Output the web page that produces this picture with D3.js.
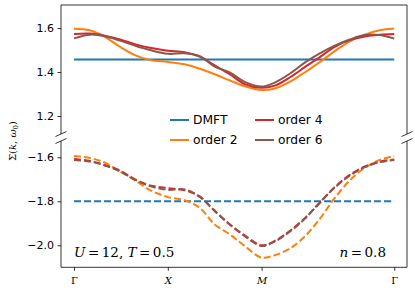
<!DOCTYPE html>
<html><head><meta charset="utf-8">
<script src="https://cdn.jsdelivr.net/npm/d3@7"></script>
<style>body{margin:0;background:#fff}svg{display:block}</style>
</head><body>
<script>
// k-path coordinate (Γ=0, X=1, M=2, Γ=2+√2)
const kpath = [0,0.17,0.33,0.49,0.65,0.81,1.0,1.18,1.34,1.5,1.66,1.82,2.0,2.14,2.30,2.46,2.62,2.78,2.94,3.10,3.26,3.414];
const tickPos = [0,1,2,3.414];
const tickLabels = ["Γ","X","M","Γ"];
const seriesNames = ["DMFT","order 2","order 4","order 6"];
// upper branch
const dmftTop = 1.457;
const order2Top = [1.597,1.590,1.560,1.515,1.477,1.455,1.446,1.435,1.415,1.390,1.362,1.335,1.318,1.325,1.355,1.398,1.445,1.495,1.540,1.570,1.590,1.598];
const order4Top = [1.573,1.575,1.565,1.548,1.527,1.510,1.497,1.490,1.470,1.430,1.390,1.345,1.328,1.338,1.375,1.422,1.468,1.515,1.545,1.562,1.570,1.573];
const order6Top = [1.553,1.570,1.563,1.543,1.520,1.500,1.483,1.485,1.472,1.425,1.398,1.355,1.334,1.352,1.392,1.443,1.485,1.520,1.548,1.568,1.568,1.552];
// lower branch
const dmftBot = -1.8;
const order2Bot = [-1.594,-1.603,-1.625,-1.665,-1.705,-1.749,-1.781,-1.795,-1.830,-1.905,-1.950,-2.003,-2.056,-2.045,-2.015,-1.960,-1.880,-1.785,-1.705,-1.648,-1.612,-1.594];
const order4Bot = [-1.608,-1.617,-1.636,-1.660,-1.700,-1.728,-1.740,-1.750,-1.778,-1.845,-1.905,-1.955,-2.000,-1.980,-1.935,-1.877,-1.808,-1.735,-1.680,-1.642,-1.620,-1.610];
const order6Bot = [-1.612,-1.619,-1.637,-1.664,-1.702,-1.731,-1.748,-1.746,-1.780,-1.842,-1.905,-1.958,-2.003,-1.983,-1.938,-1.880,-1.805,-1.738,-1.683,-1.645,-1.622,-1.612];
const topTicks = [1.2,1.4,1.6];
const botTicks = [-2.0,-1.8,-1.6];

const colors = {"DMFT":"#1f77b4","order 2":"#ff7f0e","order 4":"#d62728","order 6":"#8c564b"};

const W=415,H=291, L=61, R=407;
const svg = d3.select("body").append("svg").attr("width",W).attr("height",H)
  .style("font-family","DejaVu Sans");

const x = d3.scaleLinear().domain([-0.1386,3.55]).range([L,R]);
const yT = d3.scaleLinear().domain([1.118,1.705]).range([134,5]);
const yB = d3.scaleLinear().domain([-2.1,-1.526]).range([267.3,141]);

function minorTicks(dom, step){const a=[];const s=Math.ceil(dom[0]/step-1e-9);for(let i=s;i*step<=dom[1]+1e-9;i++)a.push(+(i*step).toFixed(4));return a;}

// axes
function yAxis(scale, ticks){
  const g = svg.append("g").attr("transform",`translate(${L},0)`);
  g.call(d3.axisLeft(scale).tickValues(minorTicks(scale.domain(),0.05)).tickSize(2).tickFormat(""));
  g.call(d3.axisLeft(scale).tickValues(ticks).tickSize(3.5).tickPadding(3.5).tickFormat(d3.format(".1f")));
  g.attr("font-family","DejaVu Sans");
  g.selectAll("path.domain").remove();
  g.selectAll("line").attr("stroke","#000").attr("stroke-width",0.8);
  g.selectAll("text").attr("font-family","DejaVu Sans").attr("font-size",11).attr("fill","#000").text(d=>d3.format(".1f")(d).replace("-","−"));
}
yAxis(yT, topTicks);
yAxis(yB, botTicks);

// spines
const sp = svg.append("g").attr("stroke","#000").attr("stroke-width",0.8).attr("fill","none");
sp.append("path").attr("d",`M${L},134V5H${R}V134`);
sp.append("path").attr("d",`M${L},141V267.3H${R}V141`);

// x axis ticks
const xg = svg.append("g").attr("transform","translate(0,267.3)");
xg.call(d3.axisBottom(x).tickValues(tickPos).tickSize(3.5).tickFormat((d,i)=>tickLabels[i]));
xg.select("path.domain").remove();
xg.selectAll("line").attr("stroke","#000").attr("stroke-width",0.8);
xg.selectAll("text").attr("font-family","DejaVu Serif").attr("font-size",10).attr("fill","#000")
  .attr("dy","1.05em").attr("font-style",(d,i)=>(i==1||i==2)?"italic":"normal");

// break marks
const bk = svg.append("g").attr("stroke","#000").attr("stroke-width",0.8);
[L,R].forEach(px=>[134,141].forEach(py=>{
  bk.append("line").attr("x1",px-5.5).attr("y1",py+2.5).attr("x2",px+5.5).attr("y2",py-2.5);
}));

// lines
const line = (ys, vals)=> d3.line().x((d,i)=>x(kpath[i])).y(d=>ys(d)).curve(d3.curveCatmullRom.alpha(0.5))(vals);
const gT = svg.append("g").attr("fill","none").attr("stroke-width",2);
gT.append("path").attr("d",line(yT, kpath.map(()=>dmftTop))).attr("stroke",colors["DMFT"]);
gT.append("path").attr("d",line(yT, order2Top)).attr("stroke",colors["order 2"]);
gT.append("path").attr("d",line(yT, order4Top)).attr("stroke",colors["order 4"]);
gT.append("path").attr("d",line(yT, order6Top)).attr("stroke",colors["order 6"]);
const gB = svg.append("g").attr("fill","none").attr("stroke-width",2).attr("stroke-dasharray","7,3");
gB.append("path").attr("d",line(yB, kpath.map(()=>dmftBot))).attr("stroke",colors["DMFT"]);
gB.append("path").attr("d",line(yB, order2Bot)).attr("stroke",colors["order 2"]);
gB.append("path").attr("d",line(yB, order4Bot)).attr("stroke",colors["order 4"]);
gB.append("path").attr("d",line(yB, order6Bot)).attr("stroke",colors["order 6"]);

// legend
const leg = svg.append("g");
const legPos = [[170,120],[170,140],[255,120],[255,140]];
seriesNames.forEach((n,i)=>{
  const [lx,ly]=legPos[i];
  leg.append("line").attr("x1",lx).attr("x2",lx+19).attr("y1",ly).attr("y2",ly).attr("stroke",colors[n]).attr("stroke-width",2);
  leg.append("text").attr("x",lx+23).attr("y",ly+4.3).attr("font-size",12.3).attr("fill","#000").text(n);
});

// annotations
const a1 = svg.append("text").attr("x",74).attr("y",256.5).attr("font-family","DejaVu Serif").attr("font-size",13.5).attr("fill","#000");
a1.append("tspan").attr("font-style","italic").text("U");
a1.append("tspan").attr("dx",2.5).text("=");
a1.append("tspan").attr("dx",2.5).text("12, ");
a1.append("tspan").attr("font-style","italic").text("T");
a1.append("tspan").attr("dx",2.5).text("=");
a1.append("tspan").attr("dx",2.5).text("0.5");
const a2 = svg.append("text").attr("x",386).attr("y",256.5).attr("text-anchor","end").attr("font-family","DejaVu Serif").attr("font-size",13.5).attr("fill","#000");
a2.append("tspan").attr("font-style","italic").text("n");
a2.append("tspan").attr("dx",2.5).text("=");
a2.append("tspan").attr("dx",2.5).text("0.8");

// y label
const yl = svg.append("text").attr("transform","translate(16,141) rotate(-90)").attr("text-anchor","middle")
  .attr("font-family","DejaVu Serif").attr("font-size",10).attr("fill","#000");
yl.append("tspan").text("Σ(");
yl.append("tspan").attr("font-style","italic").text("k");
yl.append("tspan").text(", ");
yl.append("tspan").attr("font-style","italic").text("ω");
yl.append("tspan").attr("font-size",7).attr("dy",2).text("0");
yl.append("tspan").attr("dy",-2).text(")");
</script>
</body></html>
